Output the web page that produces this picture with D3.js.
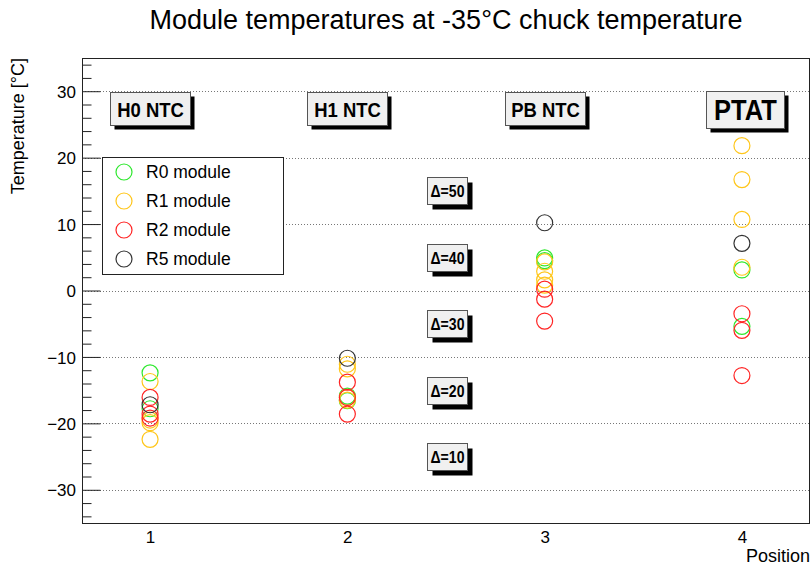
<!DOCTYPE html>
<html>
<head>
<meta charset="utf-8">
<script src="https://cdn.jsdelivr.net/npm/d3@7"></script>
<style>
  html, body { margin: 0; padding: 0; background: #fff; }
  svg { display: block; font-family: "Liberation Sans", Arial, Helvetica, sans-serif; }
</style>
</head>
<body>
<svg id="chart" width="812" height="569"></svg>
<script>
// ---- data ----
const positions = [1, 2, 3, 4];
const positionLabels = ["H0 NTC", "H1 NTC", "PB NTC", "PTAT"];
const seriesNames = ["R0 module", "R1 module", "R2 module", "R5 module"];
const seriesColors = ["#2ee82e", "#ffc61a", "#ff2424", "#333333"];
// values per position (index 0..3 -> position 1..4), several modules each
const r0Values = [[-12.4, -17.8], [-15.9, -16.6], [4.9, 4.5], [3.1, -5.4]];
const r1Values = [[-13.7, -19.5, -19.9, -22.4], [-11.1, -11.8, -16.1, -16.5], [4.3, 2.9, 1.6, 0.8], [21.8, 16.7, 10.7, 3.5]];
const r2Values = [[-16.1, -18.6, -19.2], [-13.8, -16.1, -18.6], [0.2, -1.3, -4.6], [-3.5, -6.0, -12.8]];
const r5Values = [[-17.2], [-10.2], [10.2], [7.1]];
const deltaLabels = ["Δ=50", "Δ=40", "Δ=30", "Δ=20", "Δ=10"];
const deltaLevels = [15, 5, -5, -15, -25];
const yMajorTicks = [-30, -20, -10, 0, 10, 20, 30];

const allSeries = [r0Values, r1Values, r2Values, r5Values];

// ---- layout ----
const svg = d3.select("#chart");
const L = 82, R = 810, T = 58, B = 523;
const x = d3.scaleLinear().domain([0.655, 4.345]).range([L, R]);
const y = d3.scaleLinear().domain([-35, 35]).range([B, T]);

// title
svg.append("text")
  .attr("x", 446).attr("y", 29)
  .attr("text-anchor", "middle")
  .style("font-size", "27px")
  .text("Module temperatures at -35°C chuck temperature");

// grid
svg.append("g").selectAll("line").data(yMajorTicks).join("line")
  .attr("x1", L).attr("x2", R)
  .attr("y1", d => Math.round(y(d)) + 0.5).attr("y2", d => Math.round(y(d)) + 0.5)
  .attr("stroke", "#777").attr("stroke-width", 1).attr("stroke-dasharray", "1,2");

// y axis ticks (major + minor)
const minorTicks = d3.range(-34, 35, 2).filter(v => v % 10 !== 0);
const yAxis = d3.axisRight(y).tickValues(yMajorTicks).tickSize(18).tickFormat("");
const gY = svg.append("g").attr("transform", `translate(${L + 0.5},0)`).call(yAxis);
gY.select(".domain").remove();
gY.selectAll("line").attr("stroke", "#222");
const yMinor = d3.axisRight(y).tickValues(minorTicks).tickSize(9).tickFormat("");
const gYm = svg.append("g").attr("transform", `translate(${L + 0.5},0)`).call(yMinor);
gYm.select(".domain").remove();
gYm.selectAll("line").attr("stroke", "#222");

// y tick labels
const yLab = d3.axisLeft(y).tickValues(yMajorTicks).tickSize(0).tickPadding(6).tickFormat(d3.format("d"));
const gYl = svg.append("g").attr("transform", `translate(${L},0)`).call(yLab);
gYl.select(".domain").remove();
gYl.selectAll("text").style("font-size", "17px").style("font-family", "Liberation Sans, Arial, sans-serif").attr("fill", "#000").attr("dy", "0.36em");

// x tick labels
const xLab = d3.axisBottom(x).tickValues(positions).tickSize(0).tickPadding(8).tickFormat(d3.format("d"));
const gXl = svg.append("g").attr("transform", `translate(0,${B})`).call(xLab);
gXl.select(".domain").remove();
gXl.selectAll("text").style("font-size", "17px").style("font-family", "Liberation Sans, Arial, sans-serif").attr("fill", "#000");

// axis titles
svg.append("text")
  .attr("transform", `translate(24,${T}) rotate(-90)`)
  .attr("text-anchor", "end")
  .style("font-size", "18px")
  .text("Temperature [°C]");
svg.append("text")
  .attr("x", R).attr("y", 562)
  .attr("text-anchor", "end")
  .style("font-size", "18px")
  .text("Position");

// frame
svg.append("rect")
  .attr("x", L + 0.5).attr("y", T + 0.5)
  .attr("width", R - L - 1).attr("height", B - T)
  .attr("fill", "none").attr("stroke", "#222").attr("stroke-width", 1);

// boxed labels helper
function pave(cx, cy, w, h, txt, fs, sh, sx) {
  const g = svg.append("g");
  const x0 = Math.round(cx - w / 2) + 0.5, y0 = Math.round(cy - h / 2) + 0.5;
  g.append("rect").attr("x", x0 + sh).attr("y", y0 + sh).attr("width", w).attr("height", h).attr("fill", "#000");
  g.append("rect").attr("x", x0).attr("y", y0).attr("width", w).attr("height", h)
    .attr("fill", "#f0f0f0").attr("stroke", "#555").attr("stroke-width", 1);
  g.append("text")
    .attr("transform", `translate(${x0 + w / 2},${y0 + h / 2}) scale(${sx},1)`)
    .attr("text-anchor", "middle").attr("dy", "0.36em")
    .style("font-size", fs + "px").style("font-weight", "bold")
    .text(txt);
}

positionLabels.forEach((lab, i) => {
  if (lab === "PTAT") pave(x(positions[i]) + 3, y(27.3), 78, 37, lab, 29, 4, 0.88);
  else pave(x(positions[i]), y(27.4), 80, 33, lab, 21, 4, 0.88);
});
deltaLabels.forEach((lab, i) => pave(x(2.505), y(deltaLevels[i]), 40, 27, lab, 16, 5, 0.88));

// markers
allSeries.forEach((ser, si) => {
  const pts = [];
  ser.forEach((vals, pi) => vals.forEach(v => pts.push({ p: positions[pi], v })));
  svg.append("g").selectAll("circle").data(pts).join("circle")
    .attr("cx", d => x(d.p)).attr("cy", d => y(d.v)).attr("r", 8)
    .attr("fill", "none").attr("stroke", seriesColors[si]).attr("stroke-width", 1.2);
});

// legend
const lg = svg.append("g");
lg.append("rect").attr("x", 102.5).attr("y", 157.5).attr("width", 181).attr("height", 117)
  .attr("fill", "#fff").attr("stroke", "#222").attr("stroke-width", 1);
seriesNames.forEach((nm, i) => {
  const cy = 172 + i * 29;
  lg.append("circle").attr("cx", 124).attr("cy", cy).attr("r", 8)
    .attr("fill", "none").attr("stroke", seriesColors[i]).attr("stroke-width", 1.2);
  lg.append("text").attr("x", 146).attr("y", cy).attr("dy", "0.36em")
    .style("font-size", "17.5px").text(nm);
});
</script>
</body>
</html>
